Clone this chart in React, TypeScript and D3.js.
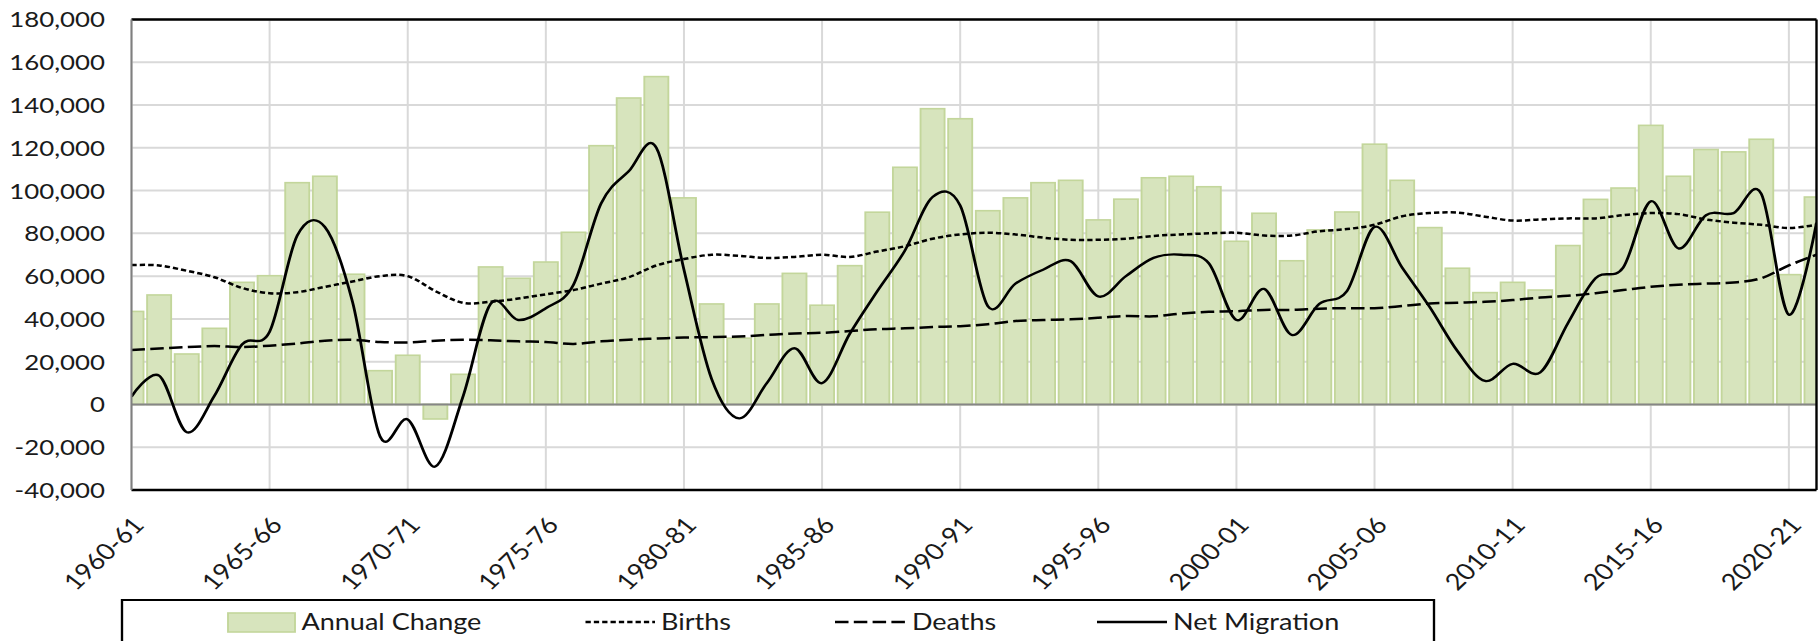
import React from "react";
import * as d3 from "d3";

const categories = [
  "1960-61","1961-62","1962-63","1963-64","1964-65","1965-66","1966-67","1967-68","1968-69","1969-70",
  "1970-71","1971-72","1972-73","1973-74","1974-75","1975-76","1976-77","1977-78","1978-79","1979-80",
  "1980-81","1981-82","1982-83","1983-84","1984-85","1985-86","1986-87","1987-88","1988-89","1989-90",
  "1990-91","1991-92","1992-93","1993-94","1994-95","1995-96","1996-97","1997-98","1998-99","1999-00",
  "2000-01","2001-02","2002-03","2003-04","2004-05","2005-06","2006-07","2007-08","2008-09","2009-10",
  "2010-11","2011-12","2012-13","2013-14","2014-15","2015-16","2016-17","2017-18","2018-19","2019-20",
  "2020-21","2021-22",
];

const tickLabels = [
  "1960-61","1965-66","1970-71","1975-76","1980-81","1985-86","1990-91",
  "1995-96","2000-01","2005-06","2010-11","2015-16","2020-21",
];

const annualChange = [
  43500, 51200, 23600, 35600, 57100, 60200, 103700, 106700, 60900, 15800,
  23000, -6800, 14100, 64300, 59000, 66600, 80500, 121000, 143300, 153300,
  96600, 47000, 31000, 47000, 61300, 46400, 64900, 89900, 110900, 138300,
  133600, 90600, 96600, 103700, 104800, 86300, 96000, 106000, 106700, 101800,
  76300, 89400, 67200, 81600, 90000, 121700, 104800, 82700, 63700, 52300,
  57100, 53500, 74300, 95900, 101200, 130500, 106700, 119200, 118100, 124000,
  60700, 97000,
];

const births = [
  65200, 65000, 62500, 59500, 54500, 52000, 52500, 55000, 57500, 60000,
  60000, 53000, 47500, 48000, 49500, 51500, 53500, 56500, 59500, 65000,
  68000, 70000, 69500, 68500, 69000, 70000, 69000, 71500, 74000, 77500,
  79500, 80300, 79500, 78000, 77000, 77000, 77500, 78800, 79500, 80000,
  80300, 79000, 79000, 81000, 82000, 84000, 88000, 89500, 89700, 87800,
  86000, 86500, 87000, 87000, 88500, 89500, 89000, 86500, 85000, 84000,
  82500, 84000,
];

const deaths = [
  25500, 26200, 26800, 27300, 26800, 27500, 28500, 29800, 30200, 29200,
  29000, 29800, 30200, 30000, 29500, 29200, 28300, 29500, 30300, 30800,
  31300, 31500, 31800, 32500, 33200, 33500, 34300, 35200, 35600, 36200,
  36600, 37500, 39000, 39500, 39800, 40500, 41400, 41200, 42500, 43300,
  43600, 44200, 44200, 44800, 45000, 45000, 46000, 47200, 47600, 48000,
  48800, 50000, 50800, 52000, 53500, 55000, 56000, 56500, 57000, 59000,
  65000, 70000,
];

const netMigration = [
  3700, 13500, -13000, 4000, 28000, 34000, 79000, 83000, 48000, -15000,
  -7000, -29000, 3700, 47000, 39500, 45000, 56000, 94000, 109000, 120000,
  63000, 12000, -6500, 10000, 26300, 10000, 33000, 53000, 72000, 97000,
  93000, 46000, 56500, 63000, 67000, 50500, 60000, 68500, 70000, 66000,
  39500, 54000, 32500, 47000, 53000, 83000, 64000, 45500, 25000, 11000,
  19000, 15000, 38000, 59000, 64000, 95000, 73000, 88500, 89500, 98500,
  42000, 85000,
];

const yTicks = [-40000, -20000, 0, 20000, 40000, 60000, 80000, 100000, 120000, 140000, 160000, 180000];

const legendLabels = ["Annual Change", "Births", "Deaths", "Net Migration"];

const W = 1818;
const H = 641;
const SX = 1.175;
const IW = W / SX;
const FONT = "Lato, 'Open Sans', sans-serif";

const fmt = d3
  .formatLocale({ decimal: ".", thousands: ",", grouping: [3], currency: ["", ""], minus: "-" })
  .format(",");

export default function App() {
  const left = 131.5 / SX;
  const right = 1816.5 / SX;
  const top = 19.5;
  const bottom = 490;

  const x = d3.scalePoint<string>().domain(categories).range([left, right]);
  const y = d3.scaleLinear().domain([-40000, 180000]).range([bottom, top]);
  const bw = x.step() * 0.87;

  const lineGen = (vals: number[]) =>
    d3
      .line<number>()
      .x((_, i) => x(categories[i]) as number)
      .y((v) => y(v))
      .curve(d3.curveCardinal.tension(0))(vals) as string;

  // legend layout (internal coords)
  const lgTop = 600;
  const lgLeft = 122 / SX;
  const lgRight = 1434 / SX;
  const lgY = 622;
  const sw = { x0: 228 / SX, x1: 295 / SX };
  const birthsL = { x0: 585.5 / SX, x1: 655 / SX };
  const deathsL = { x0: 835 / SX, x1: 905 / SX };
  const netL = { x0: 1097 / SX, x1: 1167 / SX };
  const textX = [301.5 / SX, 661 / SX, 912 / SX, 1173 / SX];

  const birthsDash = "4.5,2.6";
  const deathsDash = "11.5,4.5";

  return (
    <svg
      width={W}
      height={H}
      viewBox={`0 0 ${IW} ${H}`}
      preserveAspectRatio="none"
      style={{ position: "absolute", left: 0, top: 0, background: "#fff" }}
    >
      <defs>
        <clipPath id="plotClip">
          <rect x={left} y={top} width={right - left} height={bottom - top} />
        </clipPath>
      </defs>
      <rect x={0} y={0} width={IW} height={H} fill="#fff" />

      {/* horizontal gridlines */}
      {yTicks.map((t) => (
        <line key={"gy" + t} x1={left} x2={right} y1={y(t)} y2={y(t)} stroke="#d9d9d9" strokeWidth={2} />
      ))}
      {/* vertical gridlines */}
      {tickLabels.map((c) => (
        <line
          key={"gx" + c}
          x1={x(c) as number}
          x2={x(c) as number}
          y1={top}
          y2={bottom}
          stroke="#d9d9d9"
          strokeWidth={2 / SX}
        />
      ))}

      <g clipPath="url(#plotClip)">
        {annualChange.map((v, i) => (
          <rect
            key={"b" + i}
            x={(x(categories[i]) as number) - bw / 2}
            y={Math.min(y(v), y(0))}
            width={bw}
            height={Math.abs(y(v) - y(0))}
            fill="#d7e4bd"
            stroke="#c3d69b"
            strokeWidth={1.6}
          />
        ))}
      </g>

      {/* zero line */}
      <line x1={left} x2={right} y1={y(0)} y2={y(0)} stroke="#868686" strokeWidth={2} />

      <g clipPath="url(#plotClip)" fill="none">
        <path d={lineGen(births)} stroke="#000" strokeWidth={2.5} strokeDasharray={birthsDash} />
        <path d={lineGen(deaths)} stroke="#000" strokeWidth={2.5} strokeDasharray={deathsDash} />
        <path d={lineGen(netMigration)} stroke="#000" strokeWidth={2.4} />
      </g>

      {/* plot border */}
      <line x1={left} x2={right} y1={top} y2={top} stroke="#000" strokeWidth={2.4} />
      <line x1={left} x2={right} y1={bottom} y2={bottom} stroke="#000" strokeWidth={2.4} />
      <line x1={right} x2={right} y1={top} y2={bottom} stroke="#000" strokeWidth={2.4 / SX} />
      <line x1={left} x2={left} y1={top} y2={bottom} stroke="#7f7f7f" strokeWidth={2 / SX} />

      {/* y tick labels */}
      {yTicks.map((t) => (
        <text
          key={"yl" + t}
          x={105 / SX}
          y={y(t)}
          dy="0.36em"
          textAnchor="end"
          fontFamily={FONT}
          fontSize={22}
          fill="#1a1a1a"
        >
          {fmt(t)}
        </text>
      ))}

      {/* x tick labels */}
      {tickLabels.map((c) => {
        const tx = (x(c) as number) + 12;
        const ty = bottom + 36;
        return (
          <text
            key={"xl" + c}
            transform={`translate(${tx},${ty}) rotate(-48)`}
            textAnchor="end"
            fontFamily={FONT}
            fontSize={23}
            fill="#1a1a1a"
          >
            {c}
          </text>
        );
      })}

      {/* legend */}
      <rect
        x={lgLeft}
        y={lgTop}
        width={lgRight - lgLeft}
        height={100}
        fill="#fff"
        stroke="#000"
        strokeWidth={2}
      />
      <rect x={sw.x0} y={613} width={sw.x1 - sw.x0} height={19} fill="#d7e4bd" stroke="#c3d69b" strokeWidth={1.6} />
      <line x1={birthsL.x0} x2={birthsL.x1} y1={lgY} y2={lgY} stroke="#000" strokeWidth={2.5} strokeDasharray={birthsDash} />
      <line x1={deathsL.x0} x2={deathsL.x1} y1={lgY} y2={lgY} stroke="#000" strokeWidth={2.5} strokeDasharray={deathsDash} />
      <line x1={netL.x0} x2={netL.x1} y1={lgY} y2={lgY} stroke="#000" strokeWidth={2.4} />
      {legendLabels.map((l, i) => (
        <text key={"lg" + l} x={textX[i]} y={630} fontFamily={FONT} fontSize={23} fill="#1a1a1a">
          {l}
        </text>
      ))}
    </svg>
  );
}
